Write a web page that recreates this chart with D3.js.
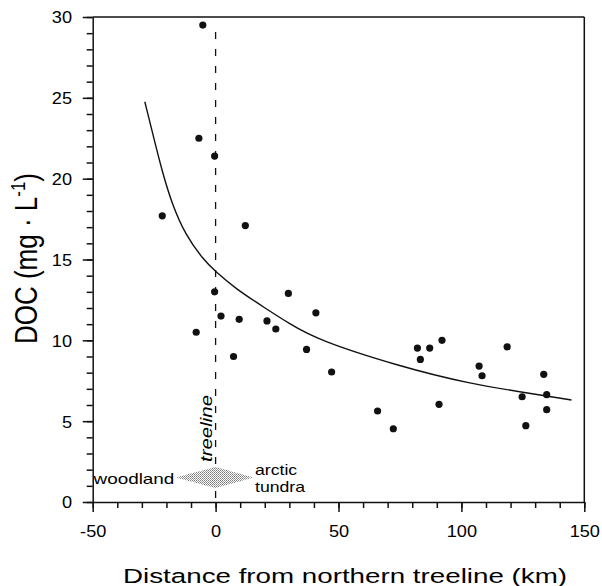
<!DOCTYPE html>
<html><head><meta charset="utf-8">
<script src="https://cdn.jsdelivr.net/npm/d3@7"></script>
<style>
html,body{margin:0;padding:0;background:#fff;}
text{font-family:"Liberation Sans",Arial,sans-serif;fill:#000;}
</style></head>
<body><svg id="c" width="602" height="586"></svg>
<script>
// ---- data ----
const distance = [-5.2,-6.8,-0.4,-21.7,12.1,-0.4,29.6,-7.9,2.2,9.6,7.3,20.9,24.5,40.8,37.0,47.2,65.9,72.3,82.1,83.3,87.1,92.1,90.9,107.2,108.4,118.6,124.7,126.2,133.5,134.7,134.7];
const doc      = [29.5,22.5,21.4,17.7,17.1,13.0,12.9,10.5,11.5,11.3,9.0,11.2,10.7,11.7,9.44,8.04,5.63,4.53,9.52,8.82,9.52,10.0,6.04,8.41,7.81,9.6,6.51,4.72,7.9,6.64,5.71];
const fitX = [-28.8,-25.1,-21.7,-17.6,-12.2,-5.4,0,8.1,20.3,29.6,41.4,75.3,102.4,129.5,144.8];
const fitY = [24.76,22.49,20.43,18.37,16.51,15.07,14.24,13.2,11.98,11.07,10.02,8.37,7.34,6.68,6.31];
const xMajorTicks = [-50,0,50,100,150];
const xMinorTicks = d3.range(-50,151,10);
const yMajorTicks = [0,5,10,15,20,25,30];
const yMinorTicks = d3.range(0,31,1);
const xTitle = "Distance from northern treeline (km)";
const legendLeft = "woodland", legendRight = ["arctic","tundra"], treelineLabel = "treeline";

const svg = d3.select("#c");
const L = 92.7, R = 584.3, T = 17, B = 502;
const x = d3.scaleLinear().domain([-50,150]).range([L,R]);
const y = d3.scaleLinear().domain([0,30]).range([B,T]);

// frame top/right
svg.append("line").attr("x1",L).attr("x2",R).attr("y1",T).attr("y2",T).attr("stroke","#111").attr("stroke-width",1.5);
svg.append("line").attr("x1",R).attr("x2",R).attr("y1",T).attr("y2",B).attr("stroke","#111").attr("stroke-width",1.5);

// axes
function styleAxis(g){ g.selectAll("path,line").attr("stroke","#111").attr("stroke-width",1.5); }
svg.append("g").attr("transform",`translate(${L},0)`)
  .call(d3.axisLeft(y).tickValues(yMinorTicks).tickSize(6).tickFormat(""))
  .call(styleAxis).call(g=>g.select(".domain").remove());
const ya = svg.append("g").attr("transform",`translate(${L},0)`)
  .call(d3.axisLeft(y).tickValues(yMajorTicks).tickSize(10).tickSizeOuter(0).tickFormat(d=>String(d)))
  .call(styleAxis);
ya.selectAll("text").attr("font-size",16.5).attr("fill","#000").attr("x",-20.7/1.1).attr("dy","0.36em")
  .attr("transform","scale(1.1,1)");

svg.append("g").attr("transform",`translate(0,${B})`)
  .call(d3.axisBottom(x).tickValues(xMinorTicks).tickSize(6).tickFormat(""))
  .call(styleAxis).call(g=>g.select(".domain").remove());
const xa = svg.append("g").attr("transform",`translate(0,${B})`)
  .call(d3.axisBottom(x).tickValues(xMajorTicks).tickSize(10).tickSizeOuter(0).tickFormat(d=>String(d)))
  .call(styleAxis);
xa.selectAll("text").attr("font-size",16.5).attr("fill","#000").attr("y",35).attr("dy",0)
  .attr("transform","scale(1.1,1)");

// dashed treeline
svg.append("line").attr("x1",x(0)).attr("x2",x(0)).attr("y1",32).attr("y2",B)
  .attr("stroke","#111").attr("stroke-width",1.3).attr("stroke-dasharray","7,10");

// fitted curve
const pts = fitX.map((v,i)=>[v,fitY[i]]);
svg.append("path").attr("d", d3.line().x(d=>x(d[0])).y(d=>y(d[1])).curve(d3.curveBasis)(pts))
  .attr("fill","none").attr("stroke","#111").attr("stroke-width",1.4);

// points
svg.append("g").selectAll("circle").data(distance.map((v,i)=>[v,doc[i]])).join("circle")
  .attr("cx",d=>x(d[0])).attr("cy",d=>y(d[1])).attr("r",3.6).attr("fill","#111");

// legend arrow (stippled)
const defs = svg.append("defs");
const pat = defs.append("pattern").attr("id","stip").attr("width",2).attr("height",2).attr("patternUnits","userSpaceOnUse");
pat.append("rect").attr("width",2).attr("height",2).attr("fill","#fff");
pat.append("rect").attr("x",0).attr("y",0).attr("width",1).attr("height",1).attr("fill","#7a7a7a");
pat.append("rect").attr("x",1).attr("y",1).attr("width",1).attr("height",1).attr("fill","#9a9a9a");
const cx0 = x(0), cy0 = 477.5;
svg.append("path").attr("d",`M${cx0-40},${cy0} L${cx0},${cy0-10.5} L${cx0+38},${cy0} L${cx0},${cy0+10.5} Z`)
  .attr("fill","url(#stip)");

// legend texts
function stretchText(txt, px, py, size, sx){
  return svg.append("text").attr("transform",`translate(${px},${py}) scale(${sx},1)`)
    .attr("font-size",size).text(txt);
}
stretchText(legendLeft, 93.5, 484, 13.9, 1.36);
stretchText(legendRight[0], 255, 475, 13.9, 1.27);
stretchText(legendRight[1], 255, 491.5, 13.9, 1.27);

// treeline label (rotated, italic)
svg.append("text").attr("transform",`translate(212,462) rotate(-90)`)
  .attr("font-size",16).attr("font-style","italic").attr("textLength",67).attr("lengthAdjust","spacingAndGlyphs")
  .text(treelineLabel);

// x title
svg.append("text").attr("x",123).attr("y",583).attr("font-size",20.5)
  .attr("textLength",444).attr("lengthAdjust","spacingAndGlyphs").text(xTitle);

// y title
const yt = svg.append("text").attr("transform",`translate(37,258.5) scale(1.18,1) rotate(-90)`)
  .attr("font-size",26).attr("text-anchor","middle");
yt.append("tspan").text("DOC (mg · L");
yt.append("tspan").attr("font-size",17).attr("dy",-10).text("-1");
yt.append("tspan").attr("dy",10).text(")");
</script></body></html>
